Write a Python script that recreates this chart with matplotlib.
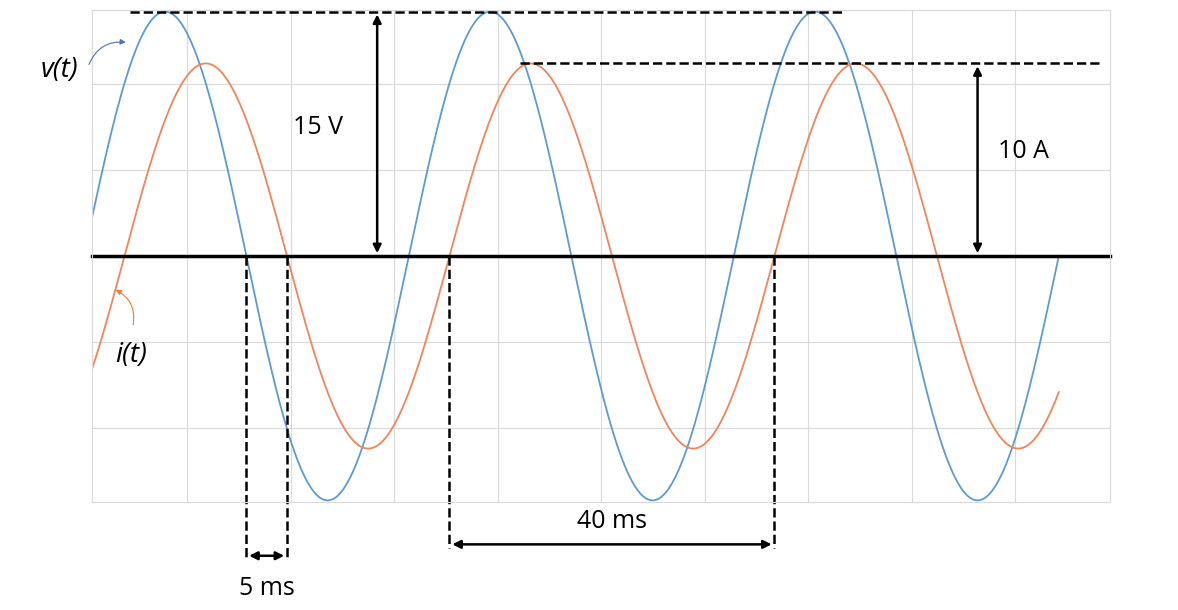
import numpy as np
import matplotlib.pyplot as plt

plt.rcParams['font.family'] = ['Open Sans', 'DejaVu Sans']

# signal parameters (ms, V, A)
period = 40.0
v_amp = 15.0
i_amp = 10.0
v_peak_t = 9.0      # time of first voltage peak
lag = 5.0           # current lags voltage
t_end = 119.0
i_scale = 1.182     # current drawn on the voltage axis: 10 A sits at this height ratio

t = np.linspace(0, t_end, 1500)
v = v_amp * np.cos(2 * np.pi * (t - v_peak_t) / period)
i = i_amp * i_scale * np.cos(2 * np.pi * (t - v_peak_t - lag) / period)

fig = plt.figure(figsize=(11.78, 6.10), dpi=100)
ax = fig.add_axes([92 / 1178, 108 / 610, 1018 / 1178, 492 / 610])
ax.set_xlim(0, 125.3)
ax.set_ylim(-15.1, 15.1)
ax.set_xticks(11.7 + 12.74 * np.arange(9))
ax.set_yticks(5.27 * np.arange(-2, 3))
ax.grid(True, color='#d9d9d9', lw=0.8)
ax.tick_params(length=0, labelbottom=False, labelleft=False)
for s in ax.spines.values():
    s.set_color('#d9d9d9')

ax.plot(t, v, color='#5b9bd5', lw=1.3)
ax.plot(t, i, color='#f0855a', lw=1.3)
ax.axhline(0, color='black', lw=2.5, clip_on=False)

ip = i_amp * i_scale
dash = dict(color='black', ls='--', lw=1.8, clip_on=False)
ax.plot([4.7, 92.7], [v_amp, v_amp], **dash)
ax.plot([52.7, 124.1], [ip, ip], **dash)

arr = dict(arrowstyle='<|-|>', color='black', lw=1.8, mutation_scale=12)
ax.annotate('', xy=(35.1, v_amp), xytext=(35.1, 0), arrowprops=arr, annotation_clip=False)
ax.text(27.8, 7.9, '15 V', fontsize=18, ha='center', va='center')
ax.annotate('', xy=(109.0, ip), xytext=(109.0, 0), arrowprops=arr, annotation_clip=False)
ax.text(114.6, 6.4, '10 A', fontsize=18, ha='center', va='center')

# time markers below the axis
z_fall_v = v_peak_t + period / 4
z_fall_i = z_fall_v + lag
z_rise_i = z_fall_i + period / 2
for x0, y1 in [(z_fall_v, -18.6), (z_fall_i, -18.6), (z_rise_i, -17.9), (z_rise_i + period, -17.9)]:
    ax.plot([x0, x0], [0, y1], **dash)
ax.annotate('', xy=(z_fall_v, -18.4), xytext=(z_fall_i, -18.4), arrowprops=arr, annotation_clip=False)
ax.text((z_fall_v + z_fall_i) / 2, -20.4, '5 ms', fontsize=18, ha='center', va='center')
ax.annotate('', xy=(z_rise_i, -17.7), xytext=(z_rise_i + period, -17.7), arrowprops=arr, annotation_clip=False)
ax.text(z_rise_i + period / 2, -16.3, '40 ms', fontsize=18, ha='center', va='center')

# curve labels
ax.text(-4.0, 11.4, 'v(t)', fontsize=20, style='italic', ha='center', va='center')
ax.annotate('', xy=(4.5, 13.1), xytext=(-0.5, 11.6),
            arrowprops=dict(arrowstyle='-|>', color='#4472c4', lw=0.8,
                            connectionstyle='arc3,rad=-0.4', mutation_scale=8),
            annotation_clip=False)
ax.text(4.8, -6.1, 'i(t)', fontsize=20, style='italic', ha='center', va='center')
ax.annotate('', xy=(2.6, -2.0), xytext=(5.0, -4.4),
            arrowprops=dict(arrowstyle='-|>', color='#ed7d31', lw=0.8,
                            connectionstyle='arc3,rad=0.4', mutation_scale=8),
            annotation_clip=False)

fig.savefig('out.png', dpi=100)
